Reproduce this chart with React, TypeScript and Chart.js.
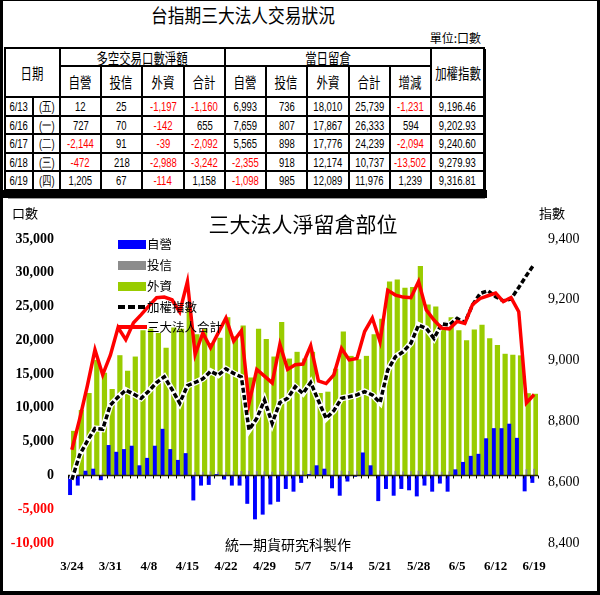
import React, { useEffect, useRef } from 'react';
import { Chart, registerables } from 'chart.js';

Chart.register(...registerables);

// ---------- chart data ----------
const dates = [
  '3/24', '3/25', '3/26', '3/27', '3/28', '3/31', '4/1', '4/2', '4/3', '4/7',
  '4/8', '4/9', '4/10', '4/11', '4/14', '4/15', '4/16', '4/17', '4/18', '4/21',
  '4/22', '4/23', '4/24', '4/25', '4/28', '4/29', '4/30', '5/2', '5/5', '5/6',
  '5/7', '5/8', '5/9', '5/12', '5/13', '5/14', '5/15', '5/16', '5/19', '5/20',
  '5/21', '5/22', '5/23', '5/26', '5/27', '5/28', '5/29', '5/30', '6/2', '6/3',
  '6/5', '6/6', '6/9', '6/10', '6/11', '6/12', '6/13', '6/16', '6/17', '6/18',
  '6/19',
];

// 自營 net open interest
const propNet = [
  -2900, -1500, 700, 1000, -700, 4500, 3500, 3900, 4400, 1500,
  2600, 4400, 6900, 3900, 2300, 3300, -3700, -1500, -1400, 200,
  -600, -1500, -1500, -4200, -6500, -5800, -4300, -3900, -2000, -2400,
  -1100, 200, 1500, 1000, -1900, -3000, -900, -200, 3400, 1500,
  -3800, -2000, -3000, -2000, -2200, -3100, -1500, -2400, -1200, -2400,
  900, 2000, 2900, 3200, 5500, 7000, 6993, 7659, 5565, -2355,
  -1098,
];

// 投信 net open interest
const trustNet = [
  150, 200, 300, 450, 400, 450, 500, 550, 600, 650,
  700, 750, 700, 650, 600, 550, 500, 550, 600, 550,
  500, 600, 650, 700, 650, 600, 550, 600, 650, 600,
  650, 700, 750, 800, 750, 700, 650, 700, 750, 800,
  750, 700, 650, 600, 650, 700, 650, 600, 550, 600,
  650, 600, 650, 700, 750, 700, 736, 807, 898, 918,
  985,
];

// 外資 net open interest
const foreignNet = [
  6600, 9700, 12200, 17100, 15200, 12800, 17800, 15500, 17600, 21500,
  21700, 21100, 18900, 21900, 21700, 24900, 20900, 21700, 19600, 20400,
  23400, 20600, 22200, 14500, 21700, 20200, 17600, 22700, 17300, 18300,
  17300, 18300, 12200, 12400, 15800, 21300, 17700, 17200, 17700, 20900,
  23200, 28700, 29000, 27800, 27900, 31000, 25300, 25000, 22800, 23400,
  21500, 20000, 21600, 22300, 20300, 19300, 18010, 17867, 17776, 12174,
  12089,
];

// 三大法人合計
const totalNet = [
  3800, 8300, 13200, 18600, 14900, 17800, 21900, 20100, 22600, 23800,
  25100, 26300, 26400, 26000, 24200, 28700, 17900, 21100, 18900, 21100,
  23300, 19900, 21400, 10700, 15700, 14700, 13700, 19400, 15700, 16400,
  16500, 19200, 14000, 13600, 14900, 18800, 17100, 17300, 21300, 23300,
  19800, 27400, 26700, 26400, 26300, 28700, 24500, 23000, 21800, 21700,
  22800, 22500, 25300, 26200, 26600, 27000, 25739, 26333, 24239, 10737,
  11976,
];

// 加權指數
const twIndex = [
  8608, 8689, 8735, 8777, 8774, 8854, 8880, 8903, 8890, 8876,
  8900, 8928, 8947, 8905, 8860, 8918, 8928, 8940, 8965, 8952,
  8973, 8958, 8946, 8772, 8810, 8870, 8794, 8862, 8876, 8914,
  8892, 8928, 8868, 8810, 8835, 8876, 8881, 8887, 8898, 8887,
  8862, 8969, 9013, 9029, 9057, 9117, 9106, 9073, 9121, 9117,
  9139, 9125, 9183, 9221, 9230, 9210, 9196.46, 9202.93, 9240.6, 9279.93,
  9316.81,
];

const leftMin = -10000;
const leftMax = 35000;
const leftStep = 5000;
const rightMin = 8400;
const rightMax = 9400;
const rightStep = 200;
const labelEvery = 5;

// ---------- table data ----------
const tableDates = ['6/13', '6/16', '6/17', '6/18', '6/19'];
const tableWeekdays = ['(五)', '(一)', '(二)', '(三)', '(四)'];
const tProp = [12, 727, -2144, -472, 1205];
const tTrust = [25, 70, 91, 218, 67];
const tForeign = [-1197, -142, -39, -2988, -114];
const tSum = [-1160, 655, -2092, -3242, 1158];
const oiProp = [6993, 7659, 5565, -2355, -1098];
const oiTrust = [736, 807, 898, 918, 985];
const oiForeign = [18010, 17867, 17776, 12174, 12089];
const oiSum = [25739, 26333, 24239, 10737, 11976];
const oiChange = [-1231, 594, -2094, -13502, 1239];
const closeIdx = [9196.46, 9202.93, 9240.6, 9279.93, 9316.81];
const subHeaders = ['自營', '投信', '外資', '合計', '自營', '投信', '外資', '合計', '增減'];

const legendItems = [
  { label: '自營', kind: 'box', color: '#0000ff' },
  { label: '投信', kind: 'box', color: '#8c8c8c' },
  { label: '外資', kind: 'box', color: '#99cc00' },
  { label: '加權指數', kind: 'dash', color: '#000000' },
  { label: '三大法人合計', kind: 'line', color: '#ff0000' },
];

const CJK = "'Noto Sans CJK TC', 'Noto Sans CJK SC', sans-serif";
const SERIF = "'Liberation Serif', 'DejaVu Serif', serif";
const NUM = "'Liberation Sans', Arial, sans-serif";

const colX = [2, 30, 57, 98, 139, 181, 222, 263, 304, 346, 387, 428, 481];
const rowY = [47, 65, 96, 115, 133, 152, 170, 189];

function fmt(n: number) {
  return n.toLocaleString('en-US');
}

function Cell(props: { c0: number; c1: number; r0: number; r1: number; children?: any; color?: string; cjk?: boolean }) {
  const { c0, c1, r0, r1, children, color, cjk } = props;
  const left = colX[c0] - 1;
  const top = rowY[r0] - 1;
  const width = colX[c1] - colX[c0] + 2;
  const height = rowY[r1] - rowY[r0] + 2;
  return (
    <div
      style={{
        position: 'absolute',
        left,
        top,
        width,
        height,
        boxSizing: 'border-box',
        border: '2px solid #000',
        display: 'flex',
        alignItems: 'center',
        justifyContent: 'center',
        overflow: 'visible',
        whiteSpace: 'nowrap',
      }}
    >
      <span
        style={{
          display: 'inline-block',
          fontFamily: cjk ? CJK : NUM,
          fontSize: cjk ? 15 : 13,
          color: color || '#000',
          transform: cjk ? 'scaleX(0.76)' : 'scaleX(0.73)',
          lineHeight: 1,
        }}
      >
        {children}
      </span>
    </div>
  );
}

function numCell(c: number, r: number, v: number, text?: string) {
  return (
    <Cell key={'n' + c + '_' + r} c0={c} c1={c + 1} r0={r + 2} r1={r + 3} color={v < 0 ? '#ff0000' : '#000'}>
      {text !== undefined ? text : fmt(v)}
    </Cell>
  );
}

const zeroLinePlugin = {
  id: 'zeroLine',
  afterDatasetDraw(chart: any, args: any) {
    if (args.index !== 3) return;
    const x = chart.scales.x;
    const y = chart.scales.y;
    const y0 = Math.round(y.getPixelForValue(0)) + 0.5;
    const ctx = chart.ctx;
    const n = dates.length;
    const w = (x.right - x.left) / n;
    ctx.save();
    ctx.strokeStyle = '#2b2b00';
    ctx.lineWidth = 1.5;
    ctx.beginPath();
    ctx.moveTo(x.left, y0);
    ctx.lineTo(x.right, y0);
    ctx.stroke();
    ctx.lineWidth = 1;
    ctx.strokeStyle = '#000';
    ctx.beginPath();
    for (let i = 0; i <= n; i++) {
      const px = Math.round(x.left + i * w) + 0.5;
      ctx.moveTo(px, y0);
      ctx.lineTo(px, y0 + 3);
    }
    ctx.stroke();
    ctx.restore();
  },
};

export default function App() {
  const ref = useRef<HTMLCanvasElement>(null);

  useEffect(() => {
    const canvas = ref.current;
    if (!canvas) return;
    const chart = new Chart(canvas, {
      type: 'bar',
      data: {
        labels: dates,
        datasets: [
          {
            type: 'line',
            label: '三大法人合計',
            data: totalNet,
            yAxisID: 'y',
            borderColor: '#ff0000',
            borderWidth: 3.5,
            pointRadius: 0,
            tension: 0,
            order: 0,
          } as any,
          {
            type: 'line',
            label: '加權指數',
            data: twIndex,
            yAxisID: 'y1',
            borderColor: '#000000',
            borderWidth: 3.5,
            borderDash: [5, 2.5],
            pointRadius: 0,
            tension: 0,
            order: 1,
          } as any,
          {
            type: 'line',
            label: 'halo',
            data: twIndex,
            yAxisID: 'y1',
            borderColor: '#ffffff',
            borderWidth: 6,
            pointRadius: 0,
            tension: 0,
            order: 2,
          } as any,
          {
            type: 'bar',
            label: '自營',
            data: propNet,
            yAxisID: 'y',
            backgroundColor: '#0000ff',
            categoryPercentage: 0.7,
            barPercentage: 2.2,
            order: 3,
          } as any,
          {
            type: 'bar',
            label: '投信',
            data: trustNet,
            yAxisID: 'y',
            backgroundColor: '#8c8c8c',
            categoryPercentage: 0.7,
            barPercentage: 1.0,
            order: 4,
          } as any,
          {
            type: 'bar',
            label: '外資',
            data: foreignNet,
            yAxisID: 'y',
            backgroundColor: '#99cc00',
            categoryPercentage: 0.7,
            barPercentage: 2.9,
            order: 5,
          } as any,
        ],
      },
      options: {
        animation: false,
        responsive: false,
        devicePixelRatio: 1,
        layout: { padding: { top: 41, left: 0, right: 0, bottom: 0 } },
        plugins: {
          legend: { display: false },
          title: { display: false },
          tooltip: { enabled: false },
        },
        scales: {
          x: {
            grid: { display: false, drawTicks: false },
            border: { display: false },
            ticks: {
              autoSkip: false,
              maxRotation: 0,
              minRotation: 0,
              padding: 16,
              color: '#000',
              font: { family: SERIF, size: 13, weight: 'bold' },
              callback: (_v: any, i: number) => (i % labelEvery === 0 ? dates[i] : ''),
            },
            afterFit: (s: any) => {
              s.height = 47;
            },
          },
          y: {
            position: 'left',
            min: leftMin,
            max: leftMax,
            grid: { display: false, drawTicks: false },
            border: { display: false },
            ticks: {
              stepSize: leftStep,
              padding: 14,
              font: { family: SERIF, size: 14, weight: 'bold' },
              color: (ctx: any) => (ctx.tick && ctx.tick.value < 0 ? '#ff0000' : '#000000'),
              callback: (v: any) => fmt(Number(v)),
            },
            afterFit: (s: any) => {
              s.width = 68;
            },
          },
          y1: {
            position: 'right',
            min: rightMin,
            max: rightMax,
            grid: { display: false, drawTicks: false },
            border: { display: false },
            ticks: {
              stepSize: rightStep,
              padding: 10,
              color: '#000',
              font: { family: SERIF, size: 14 },
              callback: (v: any) => fmt(Number(v)),
            },
            afterFit: (s: any) => {
              s.width = 59;
            },
          },
        },
      },
      plugins: [zeroLinePlugin],
    } as any);
    return () => chart.destroy();
  }, []);

  const rows: any[] = [];
  for (let r = 0; r < tableDates.length; r++) {
    rows.push(
      <Cell key={'d' + r} c0={0} c1={1} r0={r + 2} r1={r + 3}>
        {tableDates[r]}
      </Cell>
    );
    rows.push(
      <Cell key={'w' + r} c0={1} c1={2} r0={r + 2} r1={r + 3}>
        {tableWeekdays[r]}
      </Cell>
    );
    rows.push(numCell(2, r, tProp[r]));
    rows.push(numCell(3, r, tTrust[r]));
    rows.push(numCell(4, r, tForeign[r]));
    rows.push(numCell(5, r, tSum[r]));
    rows.push(numCell(6, r, oiProp[r]));
    rows.push(numCell(7, r, oiTrust[r]));
    rows.push(numCell(8, r, oiForeign[r]));
    rows.push(numCell(9, r, oiSum[r]));
    rows.push(numCell(10, r, oiChange[r]));
    rows.push(numCell(11, r, closeIdx[r], closeIdx[r].toLocaleString('en-US', { minimumFractionDigits: 2, maximumFractionDigits: 2 })));
  }

  const legendTops = [243, 263.5, 284.5, 305.5, 326];

  return (
    <div
      style={{
        position: 'absolute',
        left: 0,
        top: 0,
        width: 600,
        height: 595,
        background: '#fff',
        overflow: 'hidden',
        boxSizing: 'border-box',
        borderLeft: '3px solid #000',
        borderRight: '3px solid #000',
        borderBottom: '4px solid #000',
        borderTop: '1px solid #000',
      }}
    >
      <div style={{ position: 'absolute', left: 0, top: 0, width: 600, height: 595 }}>
        {/* table title */}
        <div
          style={{
            position: 'absolute',
            left: -3,
            top: 2,
            width: 486,
            textAlign: 'center',
            fontFamily: CJK,
            fontSize: 19,
            lineHeight: '24px',
            transform: 'scaleX(0.88)',
            color: '#000',
          }}
        >
          台指期三大法人交易狀況
        </div>
        <div
          style={{
            position: 'absolute',
            left: 420,
            top: 30,
            width: 58,
            textAlign: 'right',
            fontFamily: CJK,
            fontSize: 12,
            lineHeight: '14px',
            color: '#000',
            whiteSpace: 'nowrap',
          }}
        >
          單位:口數
        </div>

        {/* table */}
        <Cell c0={0} c1={2} r0={0} r1={2} cjk>
          日期
        </Cell>
        <Cell c0={2} c1={6} r0={0} r1={1} cjk>
          多空交易口數淨額
        </Cell>
        <Cell c0={6} c1={11} r0={0} r1={1} cjk>
          當日留倉
        </Cell>
        <Cell c0={11} c1={12} r0={0} r1={2} cjk>
          加權指數
        </Cell>
        {subHeaders.map((h, i) => (
          <Cell key={'h' + i} c0={i + 2} c1={i + 3} r0={1} r1={2} cjk>
            {h}
          </Cell>
        ))}
        {rows}
        {/* table shadow */}
        <div style={{ position: 'absolute', left: -3, top: 189, width: 487, height: 8, background: '#000' }} />
        <div style={{ position: 'absolute', left: 480, top: 48, width: 3, height: 145, background: '#000' }} />
        <div style={{ position: 'absolute', left: 5, top: 197, width: 477, height: 1, background: '#9a9a9a' }} />

        {/* chart */}
        <canvas
          ref={ref}
          width={597}
          height={392}
          style={{ position: 'absolute', left: -3, top: 197, width: 597, height: 392, display: 'block' }}
        />

        {/* chart texts */}
        <div
          style={{
            position: 'absolute',
            left: 150,
            top: 208,
            width: 300,
            textAlign: 'center',
            fontFamily: CJK,
            fontSize: 21,
            lineHeight: '28px',
            color: '#000',
          }}
        >
          三大法人淨留倉部位
        </div>
        <div style={{ position: 'absolute', left: 9, top: 204, fontFamily: CJK, fontSize: 13, lineHeight: '16px', color: '#000' }}>
          口數
        </div>
        <div style={{ position: 'absolute', left: 536, top: 204, fontFamily: CJK, fontSize: 13, lineHeight: '16px', color: '#000' }}>
          指數
        </div>
        <div
          style={{
            position: 'absolute',
            left: 222,
            top: 534,
            fontFamily: CJK,
            fontSize: 14,
            lineHeight: '18px',
            color: '#000',
            whiteSpace: 'nowrap',
          }}
        >
          統一期貨研究科製作
        </div>

        {/* legend */}
        {legendItems.map((it, i) => (
          <div key={'lg' + i} style={{ position: 'absolute', left: 115, top: legendTops[i] - 8, height: 16, display: 'flex', alignItems: 'center' }}>
            <svg width={29} height={16} style={{ display: 'block' }}>
              {it.kind === 'box' && <rect x={0} y={4} width={28} height={9} fill={it.color} />}
              {it.kind === 'dash' && <line x1={0} y1={8} x2={29} y2={8} stroke={it.color} strokeWidth={4} strokeDasharray="7 3" />}
              {it.kind === 'line' && <line x1={0} y1={8} x2={29} y2={8} stroke={it.color} strokeWidth={4} />}
            </svg>
            <span style={{ fontFamily: CJK, fontSize: 12.5, lineHeight: '16px', color: '#000', whiteSpace: 'nowrap' }}>{it.label}</span>
          </div>
        ))}
      </div>
    </div>
  );
}
